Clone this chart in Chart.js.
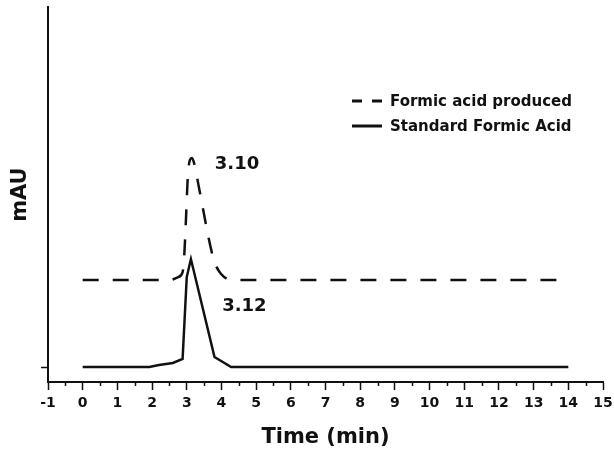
<!DOCTYPE html>
<html>
<head>
<meta charset="utf-8">
<script src="https://cdn.jsdelivr.net/npm/chart.js@4.4.1/dist/chart.umd.min.js"></script>
<style>
  html, body { margin: 0; padding: 0; background: #fff; }
  #wrap { width: 614px; height: 450px; position: relative; }
</style>
</head>
<body>
<div id="wrap"><canvas id="hplcChart"></canvas></div>
<script>
// Chromatogram traces (time in min, signal in arbitrary mAU units)
const producedTime   = [0, 2.5, 2.75, 2.88, 2.93, 2.98, 3.03, 3.09, 3.15, 3.22, 3.36, 3.7, 3.8, 3.99, 4.32, 14];
const producedSignal = [87, 87, 90, 95, 113, 150, 190, 207, 209, 203, 178, 118, 105, 93, 87, 87];
const standardTime   = [0, 1.92, 2.2, 2.6, 2.88, 3.0, 3.12, 3.8, 4.28, 14];
const standardSignal = [0, 0, 2, 4, 8, 90, 108, 10, 0, 0];
const seriesLabels   = ['Formic acid produced', 'Standard Formic Acid'];
const peakLabels     = ['3.10', '3.12'];
const peakLabelAt    = [[4.45, 203], [4.66, 61]];
const xTickLabels    = ['-1','0','1','2','3','4','5','6','7','8','9','10','11','12','13','14','15'];

const toPoints = (xs, ys) => xs.map((x, i) => ({ x, y: ys[i] }));

const FONT = "'DejaVu Sans', Arial, sans-serif";

const overlay = {
  id: 'overlay',
  afterDraw(chart) {
    const { ctx, chartArea, scales: { x, y } } = chart;
    ctx.save();
    // minor ticks at half minutes
    ctx.strokeStyle = '#111';
    ctx.lineWidth = 1.5;
    ctx.beginPath();
    for (let v = -0.5; v < 15; v += 1) {
      const px = Math.round(x.getPixelForValue(v)) + 0.5;
      ctx.moveTo(px, chartArea.bottom);
      ctx.lineTo(px, chartArea.bottom + 4);
    }
    ctx.stroke();

    ctx.fillStyle = '#111';
    ctx.font = `bold 18px ${FONT}`;
    ctx.textAlign = 'center';
    ctx.textBaseline = 'middle';
    peakLabels.forEach((t, i) => {
      ctx.fillText(t, x.getPixelForValue(peakLabelAt[i][0]), y.getPixelForValue(peakLabelAt[i][1]));
    });

    // legend
    ctx.font = `bold 15px ${FONT}`;
    ctx.textAlign = 'left';
    ctx.lineWidth = 3;
    const lx = 352, ly = [101, 126];
    ctx.setLineDash([10, 10]);
    ctx.beginPath(); ctx.moveTo(lx, ly[0]); ctx.lineTo(lx + 30, ly[0]); ctx.stroke();
    ctx.setLineDash([]);
    ctx.beginPath(); ctx.moveTo(lx, ly[1]); ctx.lineTo(lx + 30, ly[1]); ctx.stroke();
    seriesLabels.forEach((t, i) => ctx.fillText(t, lx + 38, ly[i] + 1));
    ctx.restore();
  }
};

new Chart(document.getElementById('hplcChart'), {
  type: 'line',
  data: {
    datasets: [
      { label: seriesLabels[0], data: toPoints(producedTime, producedSignal), borderColor: '#111', borderWidth: 2.5, borderDash: [16, 14], pointRadius: 0, cubicInterpolationMode: 'monotone', fill: false },
      { label: seriesLabels[1], data: toPoints(standardTime, standardSignal), borderColor: '#111', borderWidth: 2.5, pointRadius: 0, tension: 0, fill: false },
    ],
  },
  options: {
    responsive: true,
    maintainAspectRatio: false,
    animation: false,
    layout: { padding: { top: 7, right: 11, left: 0, bottom: 0 } },
    plugins: { legend: { display: false }, tooltip: { enabled: false } },
    scales: {
      x: {
        type: 'linear', min: -1, max: 15,
        afterBuildTicks: s => { const t = []; for (let v = -1; v <= 15; v++) t.push({ value: v }); s.ticks = t; },
        afterFit: s => { s.height = 68; s.paddingLeft = 0; s.paddingRight = 0; },
        ticks: {
          autoSkip: false, maxRotation: 0, padding: 5, color: '#111',
          font: { family: FONT, size: 14, weight: 'bold' },
          callback: v => xTickLabels[v + 1],
        },
        grid: { drawOnChartArea: false, color: '#111', tickLength: 8, tickWidth: 1.5 },
        border: { display: true, color: '#111', width: 2 },
        title: { display: true, text: 'Time (min)', color: '#111', font: { family: FONT, size: 21, weight: 'bold' }, padding: { top: 0, bottom: 0 } },
      },
      y: {
        type: 'linear', min: -15, max: 360,
        afterBuildTicks: s => { s.ticks = [{ value: 0 }]; },
        afterFit: s => { s.width = 48; },
        ticks: { callback: () => '', padding: 0 },
        grid: { drawOnChartArea: false, color: '#111', tickLength: 7, tickWidth: 1.5 },
        border: { display: true, color: '#111', width: 2 },
        title: { display: true, text: 'mAU', color: '#111', font: { family: FONT, size: 21, weight: 'bold' }, padding: { top: 8, bottom: 0 } },
      },
    },
  },
  plugins: [overlay],
});
</script>
</body>
</html>
